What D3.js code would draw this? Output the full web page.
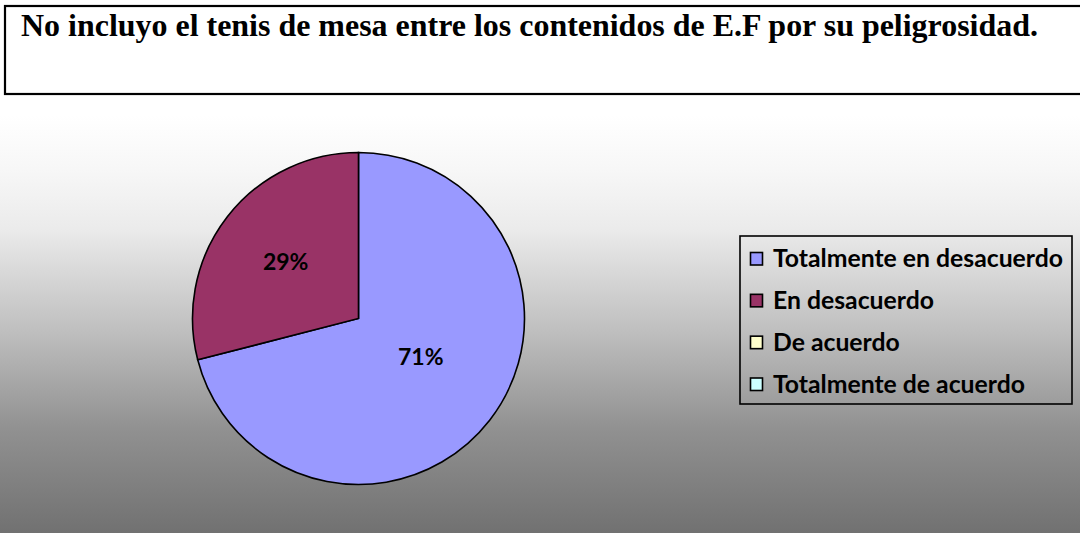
<!DOCTYPE html>
<html>
<head>
<meta charset="utf-8">
<script src="https://cdn.jsdelivr.net/npm/d3@7"></script>
<style>
  html, body { margin: 0; padding: 0; background: #ffffff; }
  svg { display: block; }
</style>
</head>
<body>
<svg id="chart" width="1080" height="533"></svg>
<script>
// Survey answers for the statement below
const titleText = "No incluyo el tenis de mesa entre los contenidos de E.F por su peligrosidad.";
const categories = ["Totalmente en desacuerdo", "En desacuerdo", "De acuerdo", "Totalmente de acuerdo"];
const percents = [71, 29, 0, 0];
const colors = ["#9999FF", "#993366", "#FFFFCC", "#CCFFFF"];

const W = 1080, H = 533;
const svg = d3.select("#chart");
const calibriLike = "Lato, 'Open Sans', sans-serif";

// Grey backdrop fading from white at the top to mid grey at the bottom
const defs = svg.append("defs");
const grad = defs.append("linearGradient")
  .attr("id", "bg").attr("gradientUnits", "userSpaceOnUse")
  .attr("x1", 0).attr("y1", 98).attr("x2", 0).attr("y2", H);
[[0, "#ffffff"], [0.04, "#ffffff"], [0.165, "#f7f7f7"], [0.30, "#ebebeb"], [0.53, "#c0c0c0"], [0.76, "#919191"], [1, "#717171"]]
  .forEach(([o, c]) => grad.append("stop").attr("offset", o).attr("stop-color", c));
svg.append("rect").attr("x", 0).attr("y", 98).attr("width", W).attr("height", H - 98)
  .attr("fill", "url(#bg)");

// Title box
svg.append("rect").attr("x", 5).attr("y", 6).attr("width", W + 10).attr("height", 88)
  .attr("fill", "#ffffff").attr("stroke", "#000").attr("stroke-width", 2.2);
svg.append("text")
  .attr("x", 21).attr("y", 36)
  .attr("font-family", "'Liberation Serif', 'Times New Roman', serif")
  .attr("font-weight", "bold").attr("font-size", 30.5)
  .attr("textLength", 1017).attr("lengthAdjust", "spacingAndGlyphs")
  .attr("fill", "#000")
  .text(titleText);

// Pie
const cx = 358.5, cy = 318.5, R = 166;
const pie = d3.pie().sort(null).value(d => d.value).startAngle(0).endAngle(2 * Math.PI);
const arcs = pie(percents.map((v, i) => ({ value: v, cat: categories[i], color: colors[i] })));
const arc = d3.arc().innerRadius(0).outerRadius(R);

const g = svg.append("g").attr("transform", `translate(${cx},${cy})`);
g.selectAll("path.slice")
  .data(arcs.filter(a => a.data.value > 0))
  .join("path")
  .attr("class", "slice")
  .attr("d", arc)
  .attr("fill", d => d.data.color)
  .attr("stroke", "#000")
  .attr("stroke-width", 1.6)
  .attr("stroke-linejoin", "miter");

// Percentage labels: larger slices sit closer to the centre
const labelArc = d => {
  const r = d.data.value > 50 ? R * 0.44 : R * 0.555;
  return d3.arc().innerRadius(r).outerRadius(r).centroid(d);
};
const labelAngleShift = d => (d.data.value > 50 ? -0.11 : 0);
g.selectAll("text.pct")
  .data(arcs.filter(a => a.data.value > 0))
  .join("text")
  .attr("class", "pct")
  .attr("transform", d => {
    const s = labelAngleShift(d);
    const p = labelArc({ ...d, startAngle: d.startAngle + s, endAngle: d.endAngle + s });
    return `translate(${p[0]},${p[1]})`;
  })
  .attr("text-anchor", "middle")
  .attr("dy", "0.36em")
  .attr("font-family", calibriLike)
  .attr("font-weight", "bold")
  .attr("font-size", 23)
  .attr("fill", "#000")
  .text(d => d.data.value + "%");

// Legend
const legend = svg.append("g");
legend.append("rect")
  .attr("x", 740).attr("y", 236).attr("width", 332).attr("height", 168)
  .attr("fill", "none").attr("stroke", "#000").attr("stroke-width", 1.6);

const rowY = d3.scalePoint().domain(categories).range([267, 392.5]);
const items = legend.selectAll("g.item").data(categories).join("g")
  .attr("class", "item")
  .attr("transform", d => `translate(0,${rowY(d)})`);
items.append("rect")
  .attr("x", 750.5).attr("y", -14.5).attr("width", 12).attr("height", 12.5)
  .attr("fill", (d, i) => colors[i]).attr("stroke", "#000").attr("stroke-width", 1.6);
const legendText = items.append("text")
  .attr("x", 773).attr("y", 0)
  .attr("font-family", calibriLike)
  .attr("font-weight", "bold")
  .attr("font-size", 22)
  .attr("fill", "#000")
  .text(d => d);

// Size the legend font so the longest entry fills the box
const longest = legendText.filter((d, i) => i === 0).node().getComputedTextLength();
legendText.attr("font-size", 22 * 290 / longest);
</script>
</body>
</html>
